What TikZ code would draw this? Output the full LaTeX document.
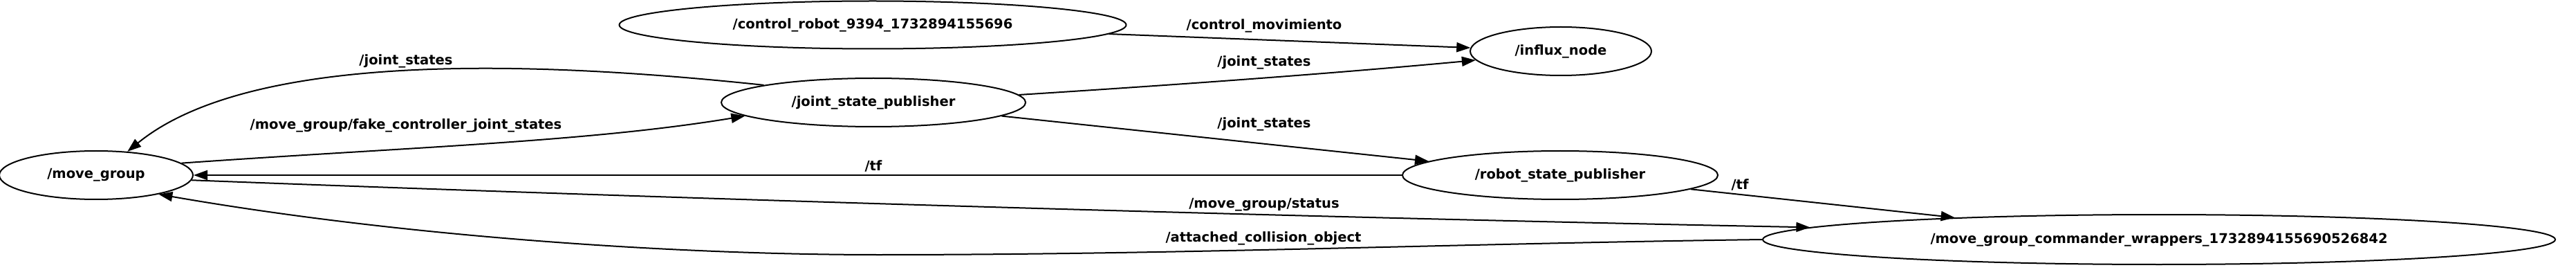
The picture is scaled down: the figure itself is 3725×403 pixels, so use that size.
\documentclass[tikz,border=0pt]{standalone}
\usepackage{fontspec}
\setmainfont{DejaVu Sans}
\usetikzlibrary{shapes.geometric,arrows.meta}

\begin{document}
\begin{tikzpicture}[x=1pt, y=-1pt]
    \tikzstyle{rosnode} = [ellipse, draw, line width=2pt, inner sep=0pt, font=\bfseries\fontsize{19.5}{23}\selectfont]
    \tikzstyle{topic} = [inner sep=0pt, font=\bfseries\fontsize{19.5}{23}\selectfont]
    \tikzstyle{arrow} = [line width=2pt, -{Triangle[length=20pt, width=14pt]}]

    \useasboundingbox (0,0) rectangle (3725,403);

    \node [rosnode, minimum width=280pt, minimum height=70pt]  (movegroup) at (139,253)  {/move\_group};
    \node [rosnode, minimum width=733pt, minimum height=69pt]  (control)   at (1262,36)  {/control\_robot\_9394\_1732894155696};
    \node [rosnode, minimum width=440pt, minimum height=70pt]  (jsp)       at (1263,148) {/joint\_state\_publisher};
    \node [rosnode, minimum width=262pt, minimum height=70pt]  (influx)    at (2257,74)  {/influx\_node};
    \node [rosnode, minimum width=456pt, minimum height=70pt]  (rsp)       at (2256,253) {/robot\_state\_publisher};
    \node [rosnode, minimum width=1146pt, minimum height=72pt] (mgcw)      at (3122,346) {/move\_group\_commander\_wrappers\_1732894155690526842};

    \draw [arrow] (jsp.171) .. controls (654,75) and (335,96) .. (movegroup.37)
        node [topic] (lblJs1) at (587,88) {/joint\_states};
    \draw [arrow] (movegroup.8) .. controls (600,212) and (850,205) .. (jsp.186)
        node [topic] (lblFake) at (587,181) {/move\_group/fake\_controller\_joint\_states};
    \draw [arrow] (control) -- (influx)
        node [topic] (lblCtrl) at (1828,37) {/control\_movimiento};
    \draw [arrow] (jsp.3) .. controls (1694,123) and (1918,107) .. (influx.186)
        node [topic] (lblJs2) at (1828,90) {/joint\_states};
    \draw [arrow] (jsp) -- (rsp)
        node [topic] (lblJs3) at (1828,179) {/joint\_states};
    \draw [arrow] (rsp) -- (movegroup)
        node [topic] (lblTf1) at (1263,240) {/tf};
    \draw [arrow] (rsp) -- (mgcw)
        node [topic] (lblTf2) at (2516,267) {/tf};
    \draw [arrow] (movegroup.357) .. controls (1000,288) and (1884,314) .. (mgcw.178.6)
        node [topic] (lblStatus) at (1828,296) {/move\_group/status};
    \draw [arrow] (mgcw.180.6) .. controls (2100,352) and (1700,368) .. (1270,368)
        .. controls (1000,368) and (600,345) .. (movegroup.343)
        node [topic] (lblAco) at (1827,344) {/attached\_collision\_object};
\end{tikzpicture}
\end{document}
